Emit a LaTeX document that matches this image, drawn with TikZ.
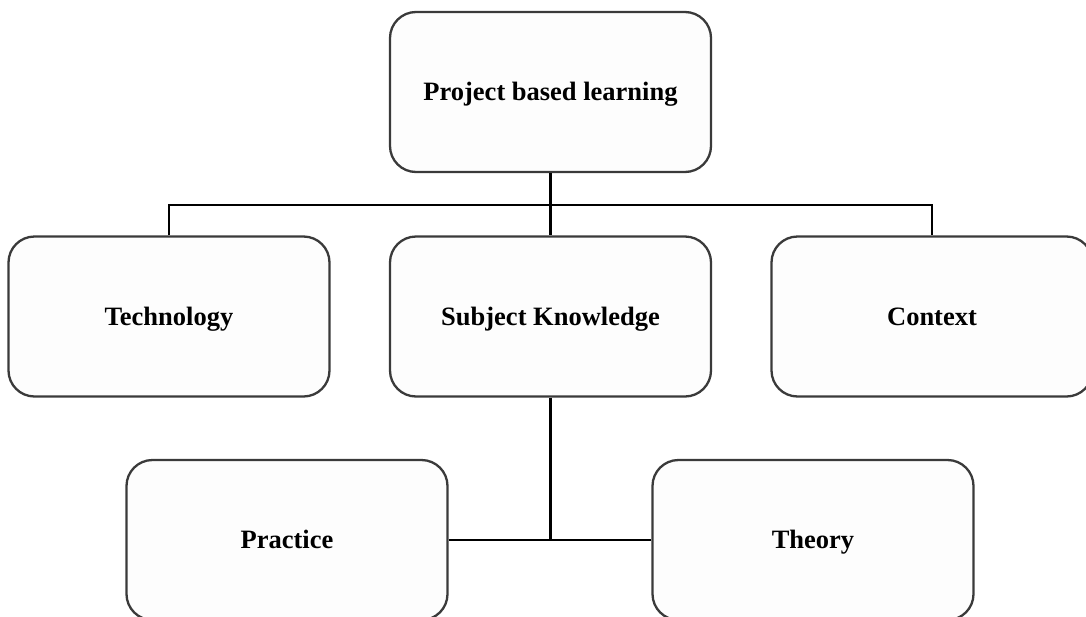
\documentclass[tikz,border=0pt]{standalone}
\usepackage{fontspec}
\setmainfont{Liberation Serif}
\usepackage{xcolor}
\usepackage{tikz}
\usetikzlibrary{calc}
\definecolor{boxfill}{HTML}{FDFDFD}
\definecolor{boxline}{HTML}{3A3A3A}
\definecolor{wire}{HTML}{000000}
\tikzset{
  card/.style={draw=boxline, fill=boxfill, line width=2.3pt, rounded corners=26pt,
    minimum width=321pt, minimum height=160pt, inner sep=0pt,
    text height=17.5pt, text depth=0pt,
    font=\fontsize{26.5}{30}\selectfont\bfseries},
  link/.style={draw=wire, line width=2.4pt},
}
\begin{document}
\begin{tikzpicture}[x=1pt,y=-1pt]
  \useasboundingbox (0,0) rectangle (1086,616);

  \node[card] (pbl)  at (550.5,92)  {Project based learning};
  \node[card] (tech) at (169,316.5) {Technology};
  \node[card] (subj) at (550.5,316.5) {Subject Knowledge};
  \node[card] (ctx)  at (932,316.5) {Context};
  \node[card] (prac) at (287,540) {Practice};
  \node[card] (thy)  at (813,540) {Theory};

  \coordinate (bus) at (550.5,205);
  \coordinate (fork) at (subj.south |- prac.east);

  \draw[link] (pbl.south) -- (subj.north);
  \draw[link] (tech.north) |- (bus) -| (ctx.north);
  \draw[link] (subj.south) -- (fork);
  \draw[link] (prac.east) -- (thy.west);
\end{tikzpicture}
\end{document}
